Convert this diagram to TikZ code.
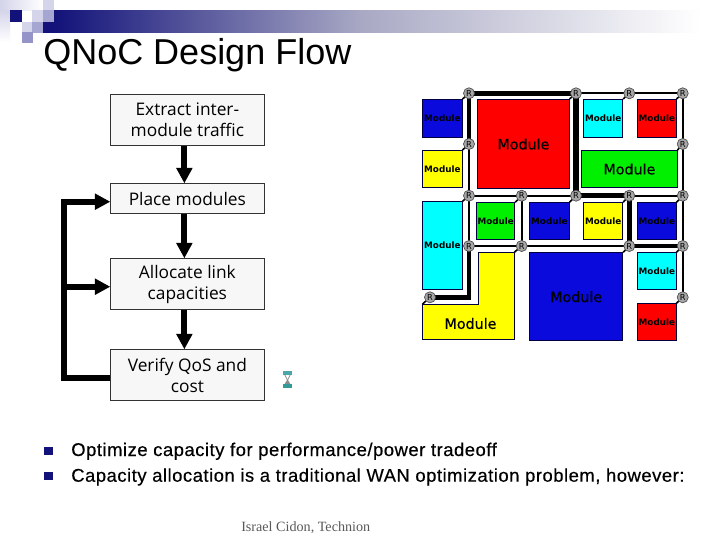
\documentclass[tikz,border=0pt]{standalone}
\usepackage{fontspec}
\usetikzlibrary{arrows.meta,shadings,calc}
\setmainfont{Liberation Sans}
\newfontfamily\boxfont{Open Sans}
\newfontfamily\modfont{DejaVu Sans}
\newfontfamily\modbig{DejaVu Sans}[FakeBold=0.35]
\newfontfamily\bulfont{Liberation Sans}[FakeBold=0.4,LetterSpace=2.9]
\newfontfamily\footfont{Liberation Serif}
\definecolor{navy}{HTML}{12127A}
\definecolor{sqA}{HTML}{D4D4EA}
\definecolor{sqB}{HTML}{A6A6D2}
\definecolor{sqC}{HTML}{9494C8}
\definecolor{barmid}{HTML}{A8A8C4}
\definecolor{modred}{HTML}{FF0000}
\definecolor{modblue}{HTML}{0A0ADC}
\definecolor{modcyan}{HTML}{00FFFF}
\definecolor{modyellow}{HTML}{FFFF00}
\definecolor{modgreen}{HTML}{00F000}
\tikzset{
 x=0.75pt,y=-0.75pt,
 flowbox/.style={draw=black!80,line width=0.6pt,fill=black!3,minimum width=115pt,align=center,font=\boxfont\fontsize{13}{15.8}\selectfont,inner sep=0pt,anchor=north west},
 flowarrow/.style={line width=4.5pt,-{Triangle[width=11.5pt,length=11.5pt]}},
 feedback/.style={line width=4.5pt},
 mod/.style={draw=black!75!blue,line width=0.6pt,inner sep=0pt,anchor=north west},
 modS/.style={mod,font=\modfont\bfseries\fontsize{6.6}{7}\selectfont},
 modL/.style={mod,font=\modbig\fontsize{10.7}{12}\selectfont},
 router/.style={circle,draw=black!70,line width=0.5pt,fill=black!35,minimum size=8.3pt,inner sep=0pt,font=\modfont\fontsize{6.2}{7}\selectfont},
 linkT/.style={line width=1.6pt},
 linkM/.style={line width=2.5pt},
 linkH/.style={line width=3.4pt},
 linkX/.style={line width=4.2pt},
 stub/.style={line width=1.2pt},
}
\newcommand{\modbox}[8]{% name, style, colour, x0, y0, x1, y1, text
 \path let \n1={(#6-#4)*0.75pt},\n2={(#7-#5)*0.75pt} in
  node[#2,fill=#3,minimum width=\n1,minimum height=\n2] (#1) at (#4,#5) {#8};}
\begin{document}
\begin{tikzpicture}
\useasboundingbox (0,0) rectangle (720,540);
\fill[white] (0,0) rectangle (720,540);
% ornament
\shade[left color=sqA,right color=white] (0,0) rectangle (43,10);
\shade[top color=sqA,bottom color=white] (0,10) rectangle (10,42);
\fill[sqA] (43,0) rectangle (54,10);
\fill[sqA] (32,10) rectangle (43,22);
\fill[sqA] (22,22) rectangle (32,32);
\fill[sqB] (43,10) rectangle (54,22);
\fill[sqB] (32,22) rectangle (43,32.7);
\fill[sqC] (22,32) rectangle (33,43);
\fill[navy] (10,10) rectangle (22,22);
% header bar
\fill[navy] (43,22) rectangle (54,32.7);
\shade[left color=navy,right color=barmid] (54,10) rectangle (360,32.7);
\shade[left color=barmid,right color=white] (360,10) rectangle (700,32.7);
% title
\node[anchor=base west,inner sep=0pt,font=\fontsize{27}{32}\selectfont] (title) at (43,64) {QNoC Design Flow};
% flow boxes
\node[flowbox,minimum height=38.2pt] (extract) at (110.3,94.3) {Extract inter-\\module traffic};
\node[flowbox,minimum height=22.5pt] (place) at (110.3,183.3) {Place modules};
\node[flowbox,minimum height=38.2pt] (alloc) at (110.3,258.3) {Allocate link\\capacities};
\node[flowbox,minimum height=38.2pt] (verify) at (110.3,349.3) {Verify QoS and\\cost};
\draw[flowarrow] ([xshift=-2.25pt]extract.south) -- ([xshift=-2.25pt]place.north);
\draw[flowarrow] ([xshift=-2.25pt]place.south) -- ([xshift=-2.25pt]alloc.north);
\draw[flowarrow] ([xshift=-2.25pt]alloc.south) -- ([xshift=-2.25pt]verify.north);
\coordinate (fbA) at (64.3,377.7);
\coordinate (fbB) at (64.3,286.7);
\coordinate (fbC) at (64.3,201.7);
\draw[feedback] (verify.west |- fbA) -- (fbA) -- (fbC);
\draw[flowarrow] ([xshift=-2.25pt]fbC) -- (place.west |- fbC);
\draw[flowarrow] (fbB) -- (alloc.west |- fbB);
% hourglass
\fill[black!45] (284,374) -- (291,374) -- (288,380) -- (291,385) -- (284,385) -- (287,380) -- cycle;
\fill[white] (285.5,375) -- (289.5,375) -- (287.5,379) -- cycle;
\fill[teal!70] (283,371) rectangle (292,375);
\fill[teal!80] (283,384) rectangle (292,388);
% modules
\modbox{m1}{modS}{modblue}{422.3}{99}{461.7}{137.3}{Module}
\modbox{m2}{modL}{modred}{477.3}{99}{568.7}{188.3}{Module}
\modbox{m3}{modS}{modcyan}{583.3}{99}{622.3}{137.3}{Module}
\modbox{m4}{modS}{modred}{637.3}{99}{675.7}{137.3}{Module}
\modbox{m5}{modS}{modyellow}{422.3}{150}{461.7}{187.3}{Module}
\modbox{m6}{modL}{modgreen}{581.3}{150}{676.7}{187.3}{Module}
\modbox{m7}{modS}{modcyan}{422.3}{201.3}{461.7}{289.3}{Module}
\modbox{m8}{modS}{modgreen}{476.3}{202.3}{514.3}{239.3}{Module}
\modbox{m9}{modS}{modblue}{529.3}{202.3}{568.7}{239.3}{Module}
\modbox{m10}{modS}{modyellow}{583.3}{202.3}{622.3}{239.3}{Module}
\modbox{m11}{modS}{modblue}{637.3}{202.3}{675.7}{239.3}{Module}
\modbox{m12}{modL}{modblue}{529.3}{252.3}{622.3}{340.3}{Module}
\modbox{m13}{modS}{modcyan}{637.3}{252.3}{675.7}{289.3}{Module}
\modbox{m14}{modS}{modred}{637.3}{303.3}{675.7}{340.3}{Module}
\draw[draw=black!75!blue,line width=0.6pt,fill=modyellow] (422.3,304.3) -- (478,304.3) -- (478,252.3) -- (514.3,252.3) -- (514.3,339.3) -- (422.3,339.3) -- cycle;
\node[font=\modbig\fontsize{10.7}{12}\selectfont,inner sep=0pt] (m15) at (470.5,323.5) {Module};
% router positions
\foreach \n/\x/\y in {a1/469/93.3,a2/576/93.3,a3/629.3/93.3,a4/682.7/93.3,
  b1/469/144,b4/682.7/144,
  c1/469/195.7,c2/521.7/195.7,c3/576/195.7,c4/629.3/195.7,c5/682.7/195.7,
  d1/469/246,d2/521.7/246,d4/629.3/246,d5/682.7/246,
  e1/430/297.3,e5/682.7/297.3}
  {\coordinate (\n) at (\x,\y);}
% links
\draw[linkH] (a1) -- (a2);
\draw[linkT] (a2) -- (a3);
\draw[linkT] (a3) -- (a4);
\draw[linkM] (a1) -- (b1);
\draw[linkT] (b1) -- (c1);
\draw[linkX] (a2) -- (c3);
\draw[linkT] (a4) -- (b4) -- (c5) -- (d5) -- (e5);
\draw[linkT] (c1) -- (c2);
\draw[linkT] (c2) -- (c3);
\draw[linkH] (c3) -- (c4);
\draw[linkT] (c4) -- (c5);
\draw[linkT] (c1) -- (d1);
\draw[linkT] (c2) -- (d2);
\draw[linkH] (c4) -- (d4);
\draw[linkT] (d1) -- (d2);
\draw[linkT] (d2) -- (d4);
\draw[linkH] (d4) -- (d5);
\draw[linkH] (d1) -- (d1 |- e1) -- (e1);
% stubs from modules to routers
\draw[stub] (m1.north east) -- (a1);
\draw[stub] (m2.north east) -- (a2);
\draw[stub] (m3.north east) -- (a3);
\draw[stub] (m4.north east) -- (a4);
\draw[stub] (m5.north east) -- (b1);
\draw[stub] (m6.north east) -- (b4);
\draw[stub] (m7.north east) -- (c1);
\draw[stub] (m8.north east) -- (c2);
\draw[stub] (m9.north east) -- (c3);
\draw[stub] (m10.north east) -- (c4);
\draw[stub] (m11.north east) -- (c5);
\draw[stub] (514.3,252.3) -- (d2);
\draw[stub] (m12.north east) -- (d4);
\draw[stub] (m13.north east) -- (d5);
\draw[stub] (m14.north east) -- (e5);
\draw[stub] (422.3,304.3) -- (e1);
% routers
\foreach \n in {a1,a2,a3,a4,b1,b4,c1,c2,c3,c4,c5,d1,d2,d4,d5,e1,e5}
  {\node[router] (r\n) at (\n) {R};}
% bullets
\fill[navy] (44,446.7) rectangle (52.5,455);
\fill[navy] (44,472) rectangle (52.5,480.3);
\node[anchor=base west,inner sep=0pt,font=\bulfont\fontsize{13.8}{16}\selectfont] (b1text) at (71,456) {Optimize capacity for performance/power tradeoff};
\node[anchor=base west,inner sep=0pt,font=\bulfont\fontsize{13.8}{16}\selectfont] (b2text) at (71,481.7) {Capacity allocation is a traditional WAN optimization problem, however:};
\node[anchor=base west,inner sep=0pt,text=black!65,font=\footfont\fontsize{10.6}{12}\selectfont] (foot) at (241,531.7) {Israel Cidon, Technion};
\end{tikzpicture}
\end{document}
